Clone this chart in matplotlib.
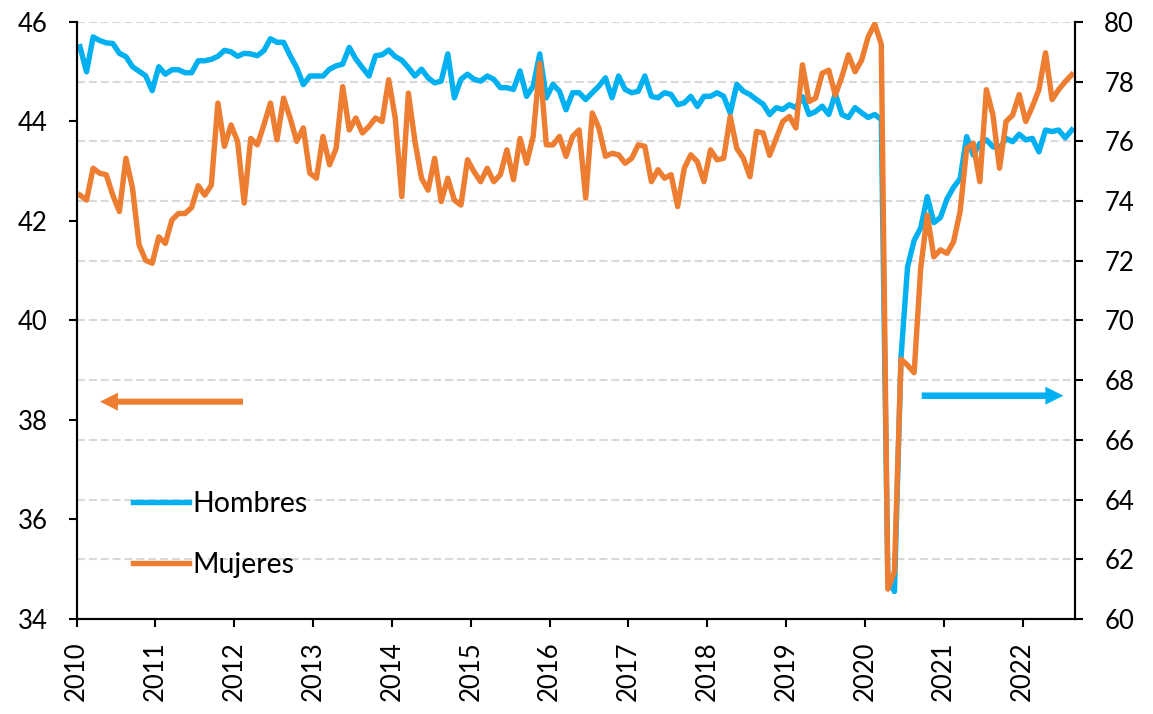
import numpy as np
import matplotlib
matplotlib.use("Agg")
import matplotlib.pyplot as plt
from matplotlib.lines import Line2D

# monthly data, Jan 2010 - Aug 2022
hombres = [79.17, 78.33, 79.5, 79.38, 79.3, 79.28, 78.95, 78.84, 78.5, 78.35, 78.2, 77.7,
           78.5, 78.25, 78.4, 78.4, 78.3, 78.3, 78.7, 78.7, 78.75, 78.85, 79.05, 79.0,
           78.85, 78.95, 78.93, 78.87, 79.04, 79.44, 79.32, 79.32, 78.87, 78.47, 77.9, 78.19,
           78.19, 78.19, 78.42, 78.53, 78.59, 79.15, 78.76, 78.47, 78.19, 78.87, 78.9, 79.06,
           78.84, 78.72, 78.47, 78.19, 78.42, 78.13, 77.96, 78.02, 78.93, 77.46, 78.08, 78.25,
           78.08, 78.02, 78.19, 78.08, 77.8, 77.8, 77.74, 78.36, 77.51, 77.85, 78.93, 77.46,
           77.91, 77.68, 77.06, 77.63, 77.63, 77.4, 77.63, 77.85, 78.13, 77.46, 78.19, 77.74,
           77.63, 77.68, 78.19, 77.51, 77.46, 77.63, 77.57, 77.23, 77.29, 77.51, 77.17, 77.51,
           77.51, 77.63, 77.51, 76.95, 77.91, 77.68, 77.57, 77.4, 77.25, 76.9, 77.13, 77.07,
           77.23, 77.13, 77.5, 76.9, 77.0, 77.18, 76.9, 77.6, 76.9, 76.8, 77.13, 76.96,
           76.8, 76.9, 76.73, 61.3, 60.92, 68.76, 71.8, 72.68, 73.1, 74.15, 73.28, 73.45,
           74.07, 74.46, 74.75, 76.16, 75.54, 75.93, 76.05, 75.82, 75.76, 76.1, 75.99, 76.24,
           76.05, 76.1, 75.65, 76.38, 76.33, 76.38, 76.12, 76.38]

mujeres = [42.52, 42.42, 43.06, 42.96, 42.93, 42.52, 42.19, 43.26, 42.66, 41.52, 41.21, 41.15,
           41.68, 41.55, 42.02, 42.15, 42.15, 42.27, 42.71, 42.52, 42.72, 44.37, 43.5, 43.93,
           43.6, 42.36, 43.66, 43.53, 43.93, 44.37, 43.63, 44.47, 44.07, 43.6, 43.87, 42.96,
           42.86, 43.7, 43.13, 43.46, 44.7, 43.83, 44.07, 43.77, 43.9, 44.07, 44.0, 44.84,
           44.07, 42.49, 44.57, 43.6, 42.86, 42.62, 43.26, 42.39, 42.86, 42.42, 42.32, 43.23,
           42.99, 42.79, 43.06, 42.79, 42.93, 43.43, 42.83, 43.66, 43.16, 43.7, 45.17, 43.53,
           43.53, 43.7, 43.3, 43.7, 43.83, 42.46, 44.17, 43.87, 43.3, 43.36, 43.33, 43.16,
           43.26, 43.53, 43.5, 42.79, 43.03, 42.86, 42.93, 42.29, 43.06, 43.33, 43.19, 42.79,
           43.43, 43.23, 43.26, 44.1, 43.46, 43.26, 42.89, 43.8, 43.77, 43.32, 43.66, 44.0,
           44.1, 43.87, 45.14, 44.4, 44.47, 44.97, 45.03, 44.53, 44.9, 45.34, 45.0, 45.23,
           45.7, 45.96, 45.55, 34.6, 34.95, 39.22, 39.1, 38.95, 41.05, 42.12, 41.28, 41.42,
           41.35, 41.58, 42.19, 43.46, 43.56, 42.79, 44.64, 44.13, 43.06, 44.0, 44.13, 44.54,
           44.0, 44.3, 44.64, 45.38, 44.44, 44.64, 44.8, 44.94]

years = [str(y) for y in range(2010, 2023)]

BLUE = '#00B0F0'
ORANGE = '#ED7D31'

plt.rcParams['font.family'] = ['Lato', 'DejaVu Sans']
plt.rcParams['font.size'] = 18

x = np.arange(len(hombres)) + 0.5

fig = plt.figure(figsize=(11.53, 7.14), dpi=100)
ax = fig.add_axes([0.0665, 0.1331, 0.8659, 0.8361])
ax2 = ax.twinx()
ax.set_zorder(2)
ax2.set_zorder(1)
ax.patch.set_visible(False)

# right axis: hombres + grid
ax2.plot(x, hombres, color=BLUE, lw=3.9, solid_joinstyle='round')
ax2.set_ylim(60, 80)
ax2.set_yticks(np.arange(60, 81, 2))
ax2.yaxis.grid(True, color='#d9d9d9', lw=1.5, linestyle=(0, (3.8, 1.9)))

# left axis: mujeres
ax.plot(x, mujeres, color=ORANGE, lw=3.9, solid_joinstyle='round')
ax.set_ylim(34, 46)
ax.set_yticks(np.arange(34, 47, 2))
ax.set_xlim(0, len(hombres))
ax.set_xticks(np.arange(0, len(hombres), 12))
ax.set_xticklabels(years, rotation=90)

for a in (ax, ax2):
    a.spines['top'].set_visible(False)
    for s in a.spines.values():
        s.set_linewidth(1.5)
    a.tick_params(direction='out', length=6, width=1.5, labelsize=18.5)
ax.tick_params(axis='y', pad=15)
ax2.tick_params(axis='y', pad=15)
ax.tick_params(axis='x', pad=10)

# arrows showing which axis each series uses
ax.arrow(0.1666, 0.364, 0.0233 - 0.1666, 0, transform=ax.transAxes,
         width=6 / 597, head_width=18 / 597, head_length=18 / 998.3,
         length_includes_head=True, color=ORANGE, lw=0)
ax.arrow(0.8464, 0.374, 0.9883 - 0.8464, 0, transform=ax.transAxes,
         width=6.5 / 597, head_width=18 / 597, head_length=18 / 998.3,
         length_includes_head=True, color=BLUE, lw=0)

handles = [Line2D([], [], color=BLUE, lw=3.9), Line2D([], [], color=ORANGE, lw=3.9)]
ax.legend(handles, ['Hombres', 'Mujeres'], loc='upper left', bbox_to_anchor=(0.0564, 0.2136),
          frameon=False, borderpad=0, borderaxespad=0, handlelength=1.95,
          handletextpad=0.15, labelspacing=1.2, fontsize=20.5)

plt.savefig('out.png', dpi=100)
plt.close()
